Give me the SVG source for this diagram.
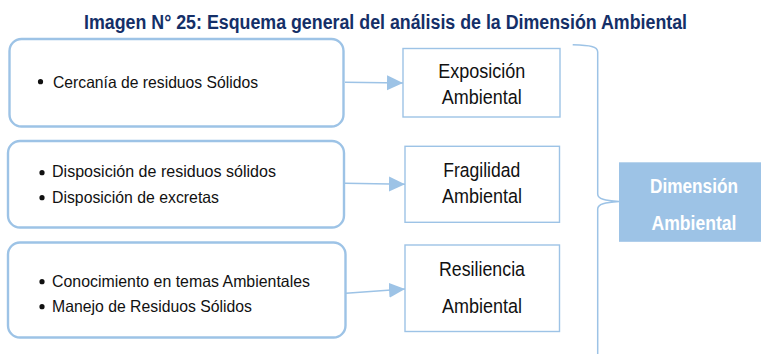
<svg xmlns="http://www.w3.org/2000/svg" width="761" height="354" viewBox="0 0 761 354">
<defs>
<style>
.title{font-family:"Liberation Sans",Arial,sans-serif;font-weight:bold;font-size:21px;fill:#142F68}
.item{font-family:"Liberation Sans",Arial,sans-serif;font-size:16.5px;fill:#111}
.lbl{font-family:"Liberation Sans",Arial,sans-serif;font-size:20.5px;fill:#111;text-anchor:middle}
.dim{font-family:"Liberation Sans",Arial,sans-serif;font-weight:bold;font-size:20px;fill:#fff;text-anchor:middle}
.group{fill:#fff;stroke:#9DC3E6;stroke-width:2.4}
.box{fill:#fff;stroke:#9DC3E6;stroke-width:1.4}
.conn{fill:none;stroke:#9DC3E6;stroke-width:1.5}
.dot{fill:#111}
</style>
<marker id="ah" markerUnits="userSpaceOnUse" markerWidth="16" markerHeight="16" refX="16" refY="7.5" orient="auto">
<path d="M0,0 L16,7.5 L0,15 Z" fill="#9DC3E6"/>
</marker>
</defs>
<rect width="761" height="354" fill="#fff"/>
<text class="title" transform="translate(84,28.5) scale(0.847,1)" x="0" y="0" textLength="712" lengthAdjust="spacingAndGlyphs">Imagen N° 25: Esquema general del análisis de la Dimensión Ambiental</text>

<g id="connectors">
<line class="conn" x1="345" y1="82.3" x2="403" y2="83" marker-end="url(#ah)"/>
<line class="conn" x1="345" y1="183.3" x2="405" y2="184.2" marker-end="url(#ah)"/>
<line class="conn" x1="346" y1="293.3" x2="405" y2="289" marker-end="url(#ah)"/>
<path class="conn" d="M572.7,44.8 C590,45.5 597.7,46 597.7,52 L597.7,194 C597.7,199 605,200.5 619,201.5 C605,202.5 597.7,204 597.7,209 L597.7,356"/>
</g>

<g id="group1">
<rect class="group" x="9.5" y="39" width="334" height="87.5" rx="12"/>
<circle class="dot" cx="40.5" cy="81.7" r="2.6"/>
<text class="item" x="53" y="87.5" textLength="205" lengthAdjust="spacingAndGlyphs">Cercanía de residuos Sólidos</text>
</g>

<g id="group2">
<rect class="group" x="8" y="141" width="336" height="86.5" rx="12"/>
<circle class="dot" cx="42" cy="172.7" r="2.6"/>
<text class="item" x="52" y="177" textLength="224" lengthAdjust="spacingAndGlyphs">Disposición de residuos sólidos</text>
<circle class="dot" cx="42" cy="197.7" r="2.6"/>
<text class="item" x="52" y="203" textLength="167" lengthAdjust="spacingAndGlyphs">Disposición de excretas</text>
</g>

<g id="group3">
<rect class="group" x="8" y="242.5" width="337.5" height="95" rx="12"/>
<circle class="dot" cx="42" cy="281.7" r="2.6"/>
<text class="item" x="52" y="286.5" textLength="258" lengthAdjust="spacingAndGlyphs">Conocimiento en temas Ambientales</text>
<circle class="dot" cx="42" cy="306.7" r="2.6"/>
<text class="item" x="52" y="312" textLength="200" lengthAdjust="spacingAndGlyphs">Manejo de Residuos Sólidos</text>
</g>

<g id="exposicion">
<rect class="box" x="403" y="48.5" width="157" height="68.5"/>
<text class="lbl" x="481.7" y="78.3" textLength="87" lengthAdjust="spacingAndGlyphs">Exposición</text>
<text class="lbl" x="481.7" y="104" textLength="80" lengthAdjust="spacingAndGlyphs">Ambiental</text>
</g>

<g id="fragilidad">
<rect class="box" x="405" y="146.3" width="154.5" height="76"/>
<text class="lbl" x="481.7" y="176.7" textLength="77" lengthAdjust="spacingAndGlyphs">Fragilidad</text>
<text class="lbl" x="482" y="202.7" textLength="80" lengthAdjust="spacingAndGlyphs">Ambiental</text>
</g>

<g id="resiliencia">
<rect class="box" x="405" y="245" width="154.5" height="86.5"/>
<text class="lbl" x="482" y="275.7" textLength="86" lengthAdjust="spacingAndGlyphs">Resiliencia</text>
<text class="lbl" x="482" y="313.3" textLength="80" lengthAdjust="spacingAndGlyphs">Ambiental</text>
</g>

<g id="dimension">
<rect x="619" y="162.3" width="142" height="79.5" fill="#9DC3E6"/>
<text class="dim" x="694" y="192.7" textLength="88" lengthAdjust="spacingAndGlyphs">Dimensión</text>
<text class="dim" x="694" y="230" textLength="85" lengthAdjust="spacingAndGlyphs">Ambiental</text>
</g>
</svg>
